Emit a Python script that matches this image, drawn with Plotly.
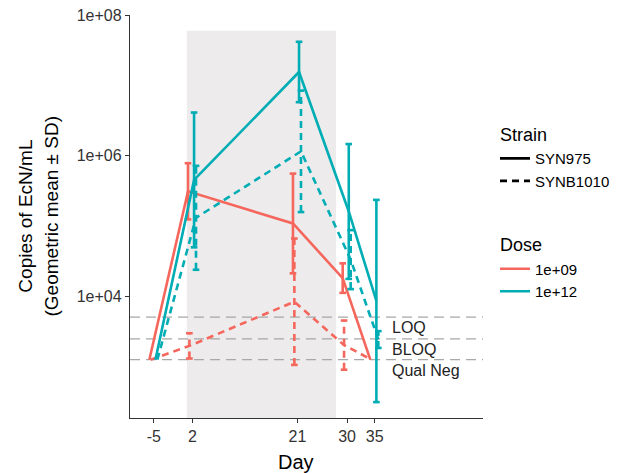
import numpy as np
import plotly.graph_objects as go

# ---------------- data ----------------
days = [-5, 2, 21, 30, 35]
x_tick_vals = [-5, 2, 21, 30, 35]
y_tick_vals = [1e4, 1e6, 1e8]
y_tick_text = ["1e+04", "1e+06", "1e+08"]

syn975_1e09_mean = [1240, 3.1e5, 1.08e5, 1.8e4, 1240]
syn975_1e09_logsd = [0, 0.40, 0.71, 0.21, 0]
syn975_1e12_mean = [1240, 4.5e5, 1.55e7, 1.6e5, 8500]
syn975_1e12_logsd = [0, 0.96, 0.43, 0.96, 1.44]
synb1010_1e09_mean = [1240, 1950, 8300, 2000, 1240]
synb1010_1e09_logsd = [0, 0.18, 0.90, 0.35, 0]
synb1010_1e12_mean = [1240, 1.3e5, 1.15e6, 3.3e4, 2400]
synb1010_1e12_logsd = [0, 0.74, 0.865, 0.42, 0.12]

limit_names = ["LOQ", "BLOQ", "Qual Neg"]
limit_values = [5000, 2450, 1240]
dosing_window = [1, 28]
dosing_top = 6e7

strains = ["SYN975", "SYNB1010"]
doses = ["1e+09", "1e+12"]

# ---------------- style ----------------
RED = "#F5665C"
TEAL = "#00ADB4"
COLORS = {"1e+09": RED, "1e+12": TEAL}
DASHES = {"SYN975": "solid", "SYNB1010": "7px,5px"}
DODGE = {("SYN975", "1e+09"): -0.8, ("SYNB1010", "1e+09"): -0.55,
         ("SYN975", "1e+12"): 0.3, ("SYNB1010", "1e+12"): 0.65}
CAP = 0.6
LW = 2.6
FONT = "Liberation Sans, Arial, sans-serif"
Y_RANGE = [2.263, 8.002]

series = [
    ("SYN975", "1e+09", syn975_1e09_mean, syn975_1e09_logsd),
    ("SYNB1010", "1e+09", synb1010_1e09_mean, synb1010_1e09_logsd),
    ("SYN975", "1e+12", syn975_1e12_mean, syn975_1e12_logsd),
    ("SYNB1010", "1e+12", synb1010_1e12_mean, synb1010_1e12_logsd),
]

fig = go.Figure()

for strain, dose, mean, logsd in series:
    off = DODGE[(strain, dose)]
    xs = [d + off for d in days]
    col = COLORS[dose]
    dash = DASHES[strain]
    fig.add_trace(go.Scatter(x=xs, y=mean, mode="lines",
                             line=dict(color=col, width=LW, dash=dash),
                             showlegend=False, hoverinfo="skip"))
    ex, ey = [], []
    for x, m, s in zip(xs, mean, logsd):
        if s <= 0:
            continue
        lo = 10 ** (np.log10(m) - s)
        hi = 10 ** (np.log10(m) + s)
        ex += [x, x, None, x - CAP, x + CAP, None, x - CAP, x + CAP, None]
        ey += [lo, hi, None, hi, hi, None, lo, lo, None]
    fig.add_trace(go.Scatter(x=ex, y=ey, mode="lines",
                             line=dict(color=col, width=LW, dash=dash),
                             showlegend=False, hoverinfo="skip"))

# legend entries
for strain in strains:
    fig.add_trace(go.Scatter(x=[None], y=[None], mode="lines", name=strain,
                             line=dict(color="black", width=LW, dash=DASHES[strain]),
                             legendgroup="strain",
                             legendgrouptitle=dict(text="Strain", font=dict(size=18, color="black"))))
for dose in doses:
    fig.add_trace(go.Scatter(x=[None], y=[None], mode="lines", name=dose,
                             line=dict(color=COLORS[dose], width=LW),
                             legendgroup="dose",
                             legendgrouptitle=dict(text="Dose", font=dict(size=18, color="black"))))

shapes = [dict(type="rect", xref="x", yref="paper", x0=dosing_window[0], x1=dosing_window[1],
               y0=0, y1=(np.log10(dosing_top) - Y_RANGE[0]) / (Y_RANGE[1] - Y_RANGE[0]),
               fillcolor="#EDEBEC", line=dict(width=0), layer="below")]
annotations = []
for name, v in zip(limit_names, limit_values):
    shapes.append(dict(type="line", xref="paper", yref="y", x0=0, x1=1, y0=v, y1=v,
                       line=dict(color="#A8A8A8", width=1.2, dash="10px,6px"), layer="below"))
    annotations.append(dict(x=37.8, y=np.log10(v), xref="x", yref="y", text=name,
                            showarrow=False, xanchor="left", yanchor="top",
                            font=dict(size=16, color="#222222", family=FONT)))

annotations.append(dict(x=0.47, y=-0.078, xref="paper", yref="paper", text="Day",
                        showarrow=False, xanchor="center", yanchor="top",
                        font=dict(size=20, color="black", family=FONT)))
annotations.append(dict(x=-0.297, y=0.5, xref="paper", yref="paper", text="Copies of EcN/mL",
                        showarrow=False, xanchor="center", yanchor="middle", textangle=-90,
                        font=dict(size=19, color="black", family=FONT)))
annotations.append(dict(x=-0.221, y=0.5, xref="paper", yref="paper", text="(Geometric mean ± SD)",
                        showarrow=False, xanchor="center", yanchor="middle", textangle=-90,
                        font=dict(size=19, color="black", family=FONT)))

# page has an 8px body margin, so the figure is sized/placed to land the panel at
# x 130..483, y 15..418 of the 636x473 window
fig.update_layout(
    width=628, height=465,
    margin=dict(l=122, r=153, t=7, b=55, autoexpand=False),
    paper_bgcolor="white", plot_bgcolor="white",
    font=dict(family=FONT, size=15, color="black"),
    shapes=shapes, annotations=annotations,
    legend=dict(x=1.034, y=0.75, xanchor="left", yanchor="top",
                font=dict(size=15, color="black"), tracegroupgap=39,
                itemwidth=30, bgcolor="rgba(0,0,0,0)"),
    xaxis=dict(range=[-9.3, 54.6], tickvals=x_tick_vals, ticktext=[str(v) for v in x_tick_vals],
               showgrid=False, zeroline=False, showline=True, linecolor="#333333", linewidth=1.3,
               ticks="outside", ticklen=4, tickcolor="#333333", tickwidth=1.2, automargin=False,
               tickfont=dict(size=16, color="#333333")),
    yaxis=dict(type="log", range=Y_RANGE, tickvals=y_tick_vals, ticktext=y_tick_text,
               showgrid=False, zeroline=False, showline=True, linecolor="#333333", linewidth=1.3,
               ticks="outside", ticklen=4, tickcolor="#333333", tickwidth=1.2, automargin=False,
               ticklabeloverflow="allow",
               tickfont=dict(size=16, color="#333333")),
)

fig.write_html("out.html")
